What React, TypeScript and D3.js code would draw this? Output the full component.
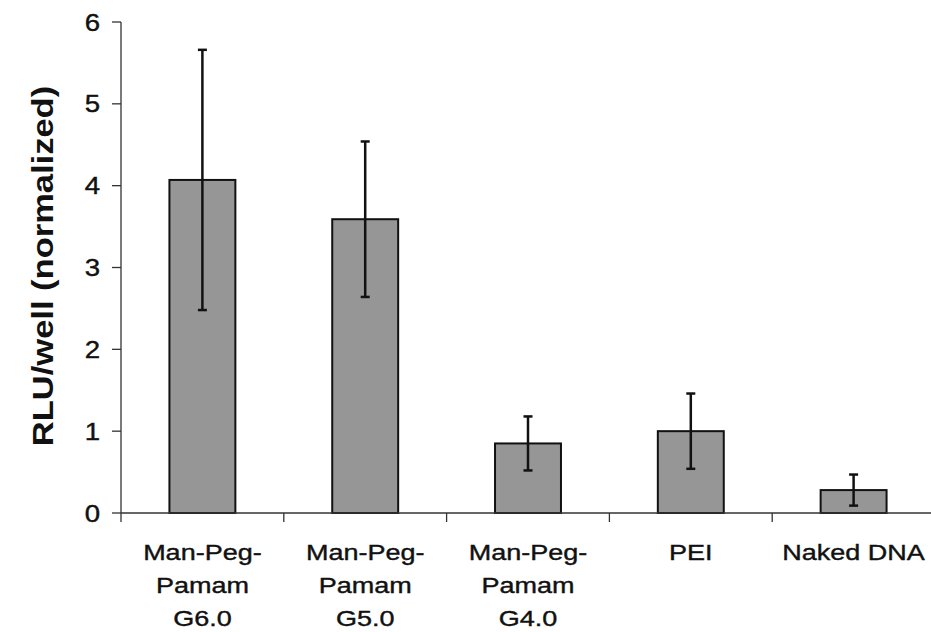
import * as d3 from 'd3';

const categories = [
  ['Man-Peg-', 'Pamam', 'G6.0'],
  ['Man-Peg-', 'Pamam', 'G5.0'],
  ['Man-Peg-', 'Pamam', 'G4.0'],
  ['PEI'],
  ['Naked DNA'],
];
const values = [4.07, 3.59, 0.85, 1.0, 0.28];
const errors = [1.59, 0.95, 0.33, 0.46, 0.19];
const yTicks = [0, 1, 2, 3, 4, 5, 6];
const yLabel = 'RLU/well (normalized)';

const W = 931;
const H = 632;
const font = '"Liberation Sans", Arial, sans-serif';
const stretch = 1.2;

export default function App() {
  const x = d3
    .scaleBand<number>()
    .domain(d3.range(values.length))
    .range([121, 935])
    .paddingInner(0.595)
    .paddingOuter(0.2975);
  const step = x.step();
  const y = d3.scaleLinear().domain([0, 6]).range([513, 22]);

  return (
    <svg width={W} height={H} style={{ position: 'absolute', left: 0, top: 0, background: '#fff' }}>
      {/* bars */}
      {values.map((v, i) => (
        <rect
          key={'b' + i}
          x={x(i)}
          y={y(v)}
          width={x.bandwidth()}
          height={y(0) - y(v)}
          fill="#969696"
          stroke="#111"
          strokeWidth={2}
        />
      ))}

      {/* error bars */}
      {values.map((v, i) => {
        const cx = (x(i) as number) + x.bandwidth() / 2;
        const top = y(v + errors[i]);
        const bot = y(v - errors[i]);
        return (
          <g key={'e' + i} stroke="#111" strokeWidth={2.5}>
            <line x1={cx} x2={cx} y1={top} y2={bot} />
            <line x1={cx - 4.5} x2={cx + 4.5} y1={top} y2={top} />
            <line x1={cx - 4.5} x2={cx + 4.5} y1={bot} y2={bot} />
          </g>
        );
      })}

      {/* y axis */}
      <g stroke="#333" strokeWidth={1.3}>
        <line x1={121} x2={121} y1={y(6)} y2={y(0)} />
        {yTicks.map((t) => (
          <line key={'yt' + t} x1={112} x2={121} y1={y(t)} y2={y(t)} />
        ))}
      </g>
      {yTicks.map((t) => (
        <text
          key={'yl' + t}
          transform={`translate(100,${y(t) + 8.5}) scale(${stretch},1)`}
          textAnchor="end"
          fontFamily={font}
          fontSize={23}
          fill="#111"
          stroke="#111"
          strokeWidth={0.4}
        >
          {t}
        </text>
      ))}

      {/* x axis */}
      <g stroke="#333" strokeWidth={1.3}>
        <line x1={121} x2={W} y1={y(0)} y2={y(0)} />
        {d3.range(values.length + 1).map((i) => (
          <line
            key={'xt' + i}
            x1={121 + i * step}
            x2={121 + i * step}
            y1={y(0)}
            y2={y(0) + 9}
          />
        ))}
      </g>
      {categories.map((lines, i) => {
        const cx = (x(i) as number) + x.bandwidth() / 2;
        return lines.map((s, j) => (
          <text
            key={'xl' + i + '-' + j}
            transform={`translate(${cx},${560 + j * 33}) scale(${stretch},1)`}
            textAnchor="middle"
            fontFamily={font}
            fontSize={22.5}
            fill="#111"
            stroke="#111"
            strokeWidth={0.4}
          >
            {s}
          </text>
        ));
      })}

      {/* y label */}
      <text
        transform={`translate(53,266) rotate(-90) scale(1.19,1)`}
        textAnchor="middle"
        fontFamily={font}
        fontWeight="bold"
        fontSize={29}
        fill="#111"
      >
        {yLabel}
      </text>
    </svg>
  );
}
